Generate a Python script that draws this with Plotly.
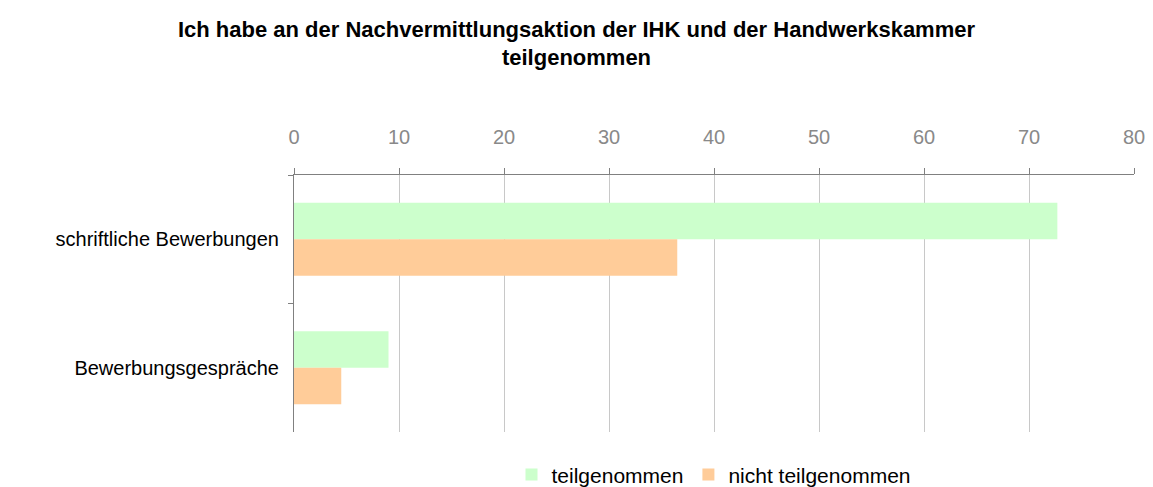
import plotly.graph_objects as go

categories = ["schriftliche Bewerbungen", "Bewerbungsgespräche"]
teilgenommen = [72.7, 9.0]
nicht_teilgenommen = [36.5, 4.5]
x_ticks = [0, 10, 20, 30, 40, 50, 60, 70, 80]

fig = go.Figure()
fig.add_trace(go.Bar(
    y=categories, x=teilgenommen, orientation="h",
    name="teilgenommen", marker=dict(color="#CCFFCC", line=dict(width=0)),
))
fig.add_trace(go.Bar(
    y=categories, x=nicht_teilgenommen, orientation="h",
    name="nicht teilgenommen", marker=dict(color="#FFCC99", line=dict(width=0)),
))

fig.update_layout(
    width=1153, height=487, autosize=False,
    margin=dict(l=294, r=19, t=175, b=55),
    paper_bgcolor="white", plot_bgcolor="white",
    font=dict(family="Liberation Sans, Arial, sans-serif", color="black"),
    title=dict(
        text="<b>Ich habe an der Nachvermittlungsaktion der IHK und der Handwerkskammer<br>teilgenommen</b>",
        x=0.5, xanchor="center", y=0.925, yanchor="top", automargin=False,
        font=dict(size=22, color="black"),
    ),
    barmode="group", bargap=0.43, bargroupgap=0,
    legend=dict(
        orientation="h", x=0.5, xanchor="center",
        yref="container", y=0.025, yanchor="middle", font=dict(size=21),
        itemwidth=30, traceorder="normal",
    ),
    showlegend=True,
)
fig.update_xaxes(
    side="top", range=[0, 80], tickvals=x_ticks, automargin=False,
    showgrid=True, gridcolor="#C8C8C8", gridwidth=1,
    showline=True, linecolor="#808080", linewidth=1,
    ticks="outside", ticklen=6, tickcolor="#808080",
    tickfont=dict(size=20, color="#898989"), ticklabelstandoff=16,
    zeroline=False,
)
fig.update_yaxes(
    autorange="reversed", tickson="boundaries", automargin=False,
    showline=True, linecolor="#808080", linewidth=1,
    ticks="outside", ticklen=5, tickcolor="#808080",
    tickfont=dict(size=20, color="black"), ticklabelstandoff=10,
    showgrid=False,
)

# page body has a default 8px margin; drop it so the figure sits at 0,0
fig.write_html(
    "out.html",
    config={"displayModeBar": False, "responsive": False},
    post_script="document.body.style.margin='0';",
)
